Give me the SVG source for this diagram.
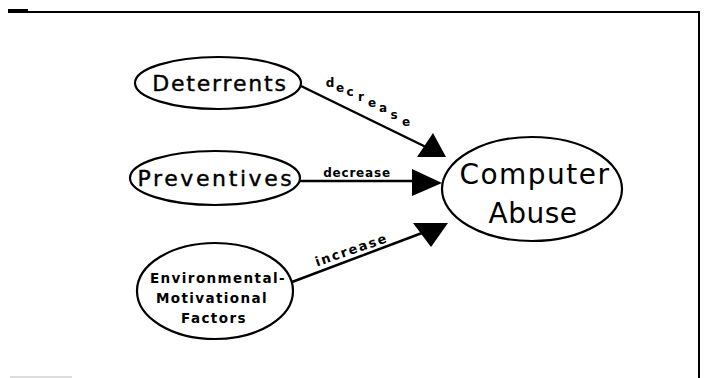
<svg xmlns="http://www.w3.org/2000/svg" width="704" height="378" viewBox="0 0 704 378">
<style>
.node{fill:#fff;stroke:#000;stroke-width:2.2}
.big{font-family:"DejaVu Sans",sans-serif;font-size:22px;text-anchor:middle;fill:#000;stroke:#000;stroke-width:0.4}
.cab{font-family:"DejaVu Sans",sans-serif;font-size:28px;text-anchor:middle;fill:#000}
.small{font-family:"DejaVu Sans",sans-serif;font-size:13.5px;font-weight:bold;text-anchor:middle;fill:#000;letter-spacing:1.4px}
.lab{font-family:"DejaVu Sans",sans-serif;font-size:12px;font-weight:bold;fill:#000}
.edge{stroke:#000;stroke-width:2.5;fill:none}
.head{fill:#000}
</style>
<rect width="704" height="378" fill="#fff"/>
<g id="frame">
<path d="M8 12 H699 V378" fill="none" stroke="#000" stroke-width="2"/>
<line x1="8" y1="10" x2="28" y2="10" stroke="#000" stroke-width="2"/>
<line x1="10" y1="377" x2="72" y2="377" stroke="#bbb" stroke-width="1"/>
</g>
<g id="connectors">
<line class="edge" x1="301" y1="86" x2="430" y2="149"/>
<polygon class="head" points="417,157 433,133 446,157"/>
<line class="edge" x1="300" y1="181" x2="414" y2="181"/>
<polygon class="head" points="412,169 412,196 442,183"/>
<line class="edge" x1="292" y1="282" x2="422" y2="233"/>
<polygon class="head" points="413,223 448,223 431,247"/>
<text class="lab" x="357" y="177" text-anchor="middle" letter-spacing="0.8">decrease</text>
<text class="lab" text-anchor="middle" x="330 340 350 361 372 383 394 406" y="87 92 96 101 107 112 119 126">decrease</text>
<text class="lab" x="353" y="254" text-anchor="middle" letter-spacing="1.8" style="font-size:13px" transform="rotate(-19 353 254)">increase</text>
</g>
<g id="deterrents">
<ellipse class="node" cx="218" cy="83" rx="83" ry="26"/>
<text class="big" x="220" y="91" letter-spacing="1.8">Deterrents</text>
</g>
<g id="preventives">
<ellipse class="node" cx="215" cy="178" rx="85" ry="27"/>
<text class="big" x="216" y="186" letter-spacing="2.6">Preventives</text>
</g>
<g id="environmental">
<ellipse class="node" cx="215" cy="291" rx="78" ry="48"/>
<text class="small" x="218" y="283">Environmental-</text>
<text class="small" x="212" y="303">Motivational</text>
<text class="small" x="214" y="323">Factors</text>
</g>
<g id="computer-abuse">
<ellipse class="node" cx="532" cy="189" rx="90" ry="52"/>
<text class="cab" x="535" y="184" letter-spacing="1.5">Computer</text>
<text class="cab" x="533" y="223" letter-spacing="0.5">Abuse</text>
</g>
</svg>
